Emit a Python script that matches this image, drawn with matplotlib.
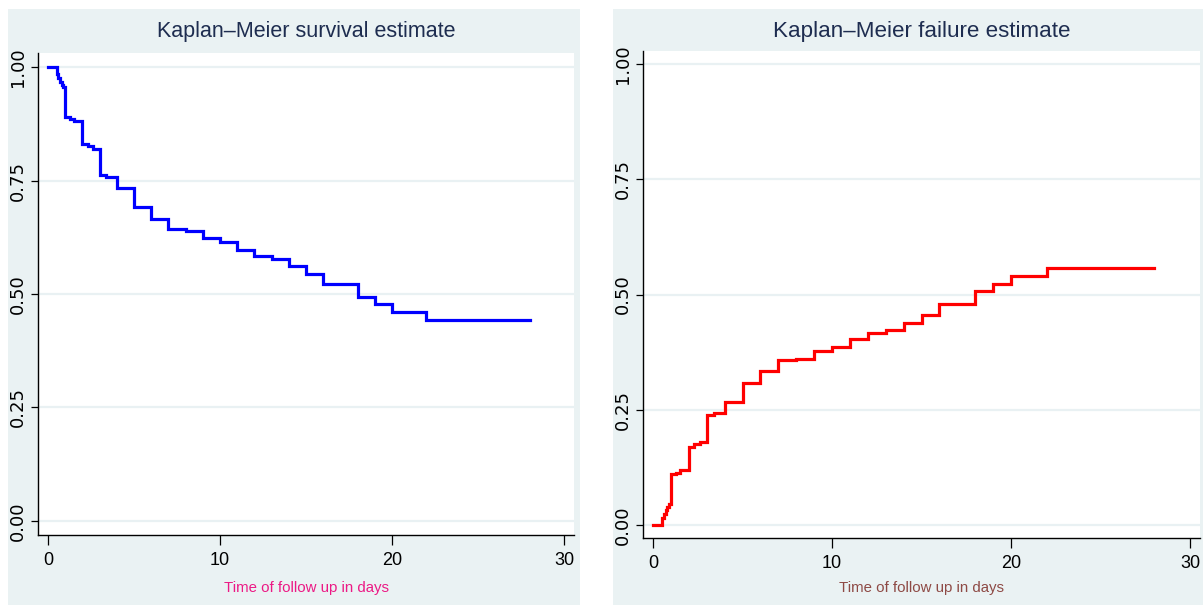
import matplotlib
matplotlib.use('Agg')
import matplotlib.pyplot as plt
import matplotlib.patches as mplpatches
from matplotlib import font_manager

# follow-up times (days) where the estimate changes, and the survival
# estimate in force from each time onwards
times = [0, 0.5, 0.6, 0.7, 0.8, 0.9, 1.0, 1.3, 1.5, 2, 2.3, 2.6, 3, 3.4, 4, 5, 6,
         7, 8, 9, 10, 11, 12, 13, 14, 15, 16, 18, 19, 20, 22, 28]
survival = [1.000, 0.985, 0.975, 0.968, 0.960, 0.955, 0.890, 0.886, 0.881,
            0.830, 0.825, 0.819, 0.762, 0.758, 0.733, 0.692, 0.665, 0.643,
            0.639, 0.623, 0.614, 0.597, 0.584, 0.577, 0.562, 0.544, 0.521,
            0.493, 0.478, 0.460, 0.443, 0.443]
failure = [1 - s for s in survival]

yTicks = [0, 0.25, 0.5, 0.75, 1.0]
yTickLabels = ['0.00', '0.25', '0.50', '0.75', '1.00']
xTicks = [0, 10, 20, 30]
xTickLabels = ['0', '10', '20', '30']

titles = ['Kaplan\u2013Meier survival estimate', 'Kaplan\u2013Meier failure estimate']
xLabel = 'Time of follow up in days'


def pick_font(names):
    installed = {f.name for f in font_manager.fontManager.ttflist}
    for name in names:
        if name in installed:
            return name
    return 'DejaVu Sans'


textFont = pick_font(['Liberation Sans Narrow', 'Liberation Sans', 'Arial'])
tickFont = 'DejaVu Sans'

figureWidth = 1203
figureHeight = 605
fig = plt.figure(figsize=(figureWidth / 100, figureHeight / 100), dpi=100)
fig.patch.set_facecolor('white')
renderer = fig.canvas.get_renderer()

bgColor = '#EAF2F3'
gridColor = '#E9F1F3'
titleColor = '#1E2D50'
labelColors = ['#EC1A85', '#8E4A45']
lineColors = [(0, 0, 1), (1, 0, 0)]


def fx(px):
    return px / figureWidth


def fy(py):
    return 1 - py / figureHeight


def fitted_text(xpx, ypx, s, widthPx, color):
    # size the text so its drawn width comes out at widthPx
    t = fig.text(fx(xpx), fy(ypx), s, ha='center', va='center',
                 fontfamily=textFont, fontsize=10, color=color)
    w = t.get_window_extent(renderer).width
    t.set_fontsize(10 * widthPx / w)
    return t


# grey-blue panel backgrounds (pixel boxes: left, top, right, bottom)
for left, top, right, bottom in [(8, 9, 580, 605), (613, 9, 1203, 605)]:
    fig.patches.append(mplpatches.Rectangle((fx(left), fy(bottom)),
                                            fx(right - left), (bottom - top) / figureHeight,
                                            transform=fig.transFigure,
                                            facecolor=bgColor, edgecolor='none', zorder=-5))

# plot regions in pixels: left, top, right, bottom
boxes = [(38, 53, 574, 535), (643, 51, 1200, 538)]
# axis ranges
xlims = [(-0.58, 30.58), (-0.56, 30.56)]
ylims = [(-0.031, 1.031), (-0.028, 1.028)]
series = [survival, failure]
titleWidths = [300, 297]

for i in range(2):
    left, top, right, bottom = boxes[i]
    panel = fig.add_axes([fx(left), fy(bottom), fx(right - left), (bottom - top) / figureHeight])
    panel.set_zorder(1)
    panel.set_facecolor('white')

    for y in yTicks:
        panel.axhline(y, color=gridColor, linewidth=1.6, zorder=1)

    panel.step(times, series[i], where='post', color=lineColors[i],
               linewidth=2.3, zorder=3, solid_joinstyle='miter')

    panel.set_xlim(*xlims[i])
    panel.set_ylim(*ylims[i])

    panel.set_xticks(xTicks)
    panel.set_xticklabels(xTickLabels, fontfamily=textFont, fontsize=13)
    panel.set_yticks(yTicks)
    panel.set_yticklabels(yTickLabels, fontfamily=tickFont, fontsize=13,
                          rotation=90, va='center')

    panel.tick_params(axis='x', length=7, width=0.9, pad=5, colors='black')
    panel.tick_params(axis='y', length=5, width=0.9, pad=3, colors='black')

    for side in ['top', 'right']:
        panel.spines[side].set_visible(False)
    for side in ['left', 'bottom']:
        panel.spines[side].set_linewidth(1.0)
        panel.spines[side].set_color('black')

    center = (left + right) / 2
    fitted_text(center, 31, titles[i], titleWidths[i], titleColor)
    fitted_text(center, 588, xLabel, 166, labelColors[i])

plt.savefig('out.png', dpi=100)
